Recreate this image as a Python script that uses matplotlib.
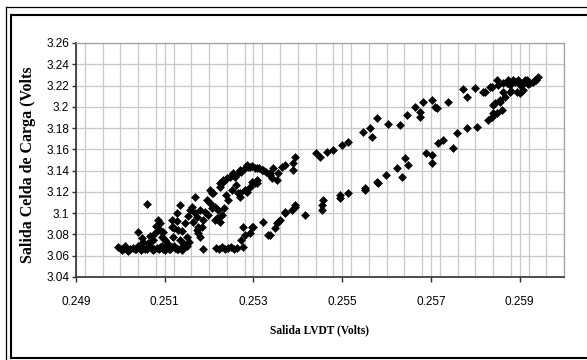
import matplotlib
matplotlib.use("Agg")
import matplotlib.pyplot as plt
from matplotlib.lines import Line2D
from matplotlib.ticker import MultipleLocator, FuncFormatter

# ---- data ----
base_x = [0.24995, 0.25001, 0.25008, 0.25015, 0.25022, 0.25028, 0.25035, 0.25042,
          0.25049, 0.25056, 0.25062, 0.25069, 0.25076, 0.25083, 0.25089, 0.25096,
          0.25103, 0.25110, 0.25116, 0.25123, 0.25130, 0.25137, 0.25143, 0.25150,
          0.25004, 0.25018, 0.25032, 0.25046, 0.25060, 0.25073, 0.25087, 0.25100,
          0.25113, 0.25127, 0.25140, 0.25186, 0.25011, 0.25039, 0.25066, 0.25093,
          0.25120, 0.25147]
base_y = [3.0682, 3.0664, 3.0673, 3.0654, 3.0664, 3.0673, 3.0664, 3.0682,
          3.0673, 3.0664, 3.0682, 3.0673, 3.0664, 3.0673, 3.0682, 3.0664,
          3.0673, 3.0664, 3.0682, 3.0673, 3.0664, 3.0673, 3.0682, 3.0692,
          3.0654, 3.0645, 3.0664, 3.0654, 3.0664, 3.0654, 3.0664, 3.0654,
          3.0664, 3.0664, 3.0654, 3.0665, 3.0690, 3.0695, 3.0690, 3.0695,
          3.0690, 3.0700]

cloud_x = [0.25059, 0.25040, 0.25048, 0.25051, 0.25074, 0.25078, 0.25085, 0.25089,
           0.25089, 0.25093, 0.25101, 0.25116, 0.25116, 0.25119, 0.25127, 0.25134,
           0.25130, 0.25134, 0.25146, 0.25150, 0.25161, 0.25168, 0.25168, 0.25172,
           0.25180, 0.25183, 0.25157, 0.25172, 0.25191, 0.25202, 0.25213, 0.25217,
           0.25228, 0.25213, 0.25225, 0.25175, 0.25175, 0.25180, 0.25220,
           0.25062, 0.25067, 0.25080, 0.25096, 0.25107, 0.25121, 0.25128, 0.25139,
           0.25141, 0.25152, 0.25164, 0.25155, 0.25186, 0.25195, 0.25198, 0.25207,
           0.25234, 0.25243, 0.25238, 0.25252, 0.25261]
cloud_y = [3.1087, 3.0826, 3.0767, 3.0732, 3.0748, 3.0814, 3.0936, 3.0908,
           3.0842, 3.0779, 3.0748, 3.0936, 3.0873, 3.0779, 3.1002, 3.1077,
           3.0842, 3.0748, 3.0908, 3.0779, 3.1061, 3.1155, 3.1002, 3.0842,
           3.1030, 3.0873, 3.1030, 3.0967, 3.1014, 3.1096, 3.1061, 3.0955,
           3.0983, 3.0936, 3.0920, 3.0873, 3.0814, 3.0779, 3.1030,
           3.0720, 3.0786, 3.0880, 3.0823, 3.0711, 3.0861, 3.0927, 3.0833,
           3.0720, 3.0974, 3.0917, 3.0729, 3.0936, 3.1124, 3.0983, 3.1049,
           3.1049, 3.1124, 3.1171, 3.1218, 3.1265]

load_x = [0.25206, 0.25209, 0.25202, 0.25225, 0.25231, 0.25231, 0.25225, 0.25240,
          0.25254, 0.25254, 0.25258, 0.25270, 0.25273, 0.25285, 0.25288, 0.25292,
          0.25303, 0.25307, 0.25319, 0.25322, 0.25337, 0.25337, 0.25344, 0.25352,
          0.25355, 0.25364, 0.25371, 0.25389, 0.25389, 0.25394,
          0.25265, 0.25270, 0.25281, 0.25296, 0.25307, 0.25303, 0.25307, 0.25292,
          0.25285, 0.25270,
          0.25247, 0.25265, 0.25281, 0.25297, 0.25312, 0.25328, 0.25342,
          0.25442, 0.25450, 0.25465, 0.25479, 0.25499, 0.25513, 0.25547, 0.25563,
          0.25567, 0.25578, 0.25603, 0.25630, 0.25645, 0.25664, 0.25675, 0.25675,
          0.25682, 0.25702, 0.25709, 0.25713, 0.25738, 0.25772, 0.25781, 0.25799,
          0.25817, 0.25822, 0.25833, 0.25837, 0.25848, 0.25862, 0.25871, 0.25878,
          0.25885, 0.25890, 0.25893, 0.25901, 0.25905, 0.25912, 0.25916, 0.25923,
          0.25935, 0.25938, 0.25941, 0.25862, 0.25856, 0.25844,
          0.25874, 0.25896, 0.25919, 0.25930, 0.25881, 0.25851, 0.25907]
load_y = [3.1190, 3.1190, 3.1218, 3.1284, 3.1312, 3.1296, 3.1249, 3.1331,
          3.1359, 3.1378, 3.1343, 3.1406, 3.1390, 3.1453, 3.1434, 3.1437,
          3.1425, 3.1425, 3.1406, 3.1406, 3.1378, 3.1359, 3.1425, 3.1312,
          3.1378, 3.1437, 3.1453, 3.1406, 3.1472, 3.1531,
          3.1190, 3.1190, 3.1218, 3.1296, 3.1284, 3.1284, 3.1312, 3.1249,
          3.1202, 3.1155,
          3.1340, 3.1378, 3.1425, 3.1444, 3.1425, 3.1387, 3.1331,
          3.1566, 3.1528, 3.1578, 3.1594, 3.1641, 3.1672, 3.1766, 3.1801,
          3.1719, 3.1892, 3.1839, 3.1829, 3.1923, 3.2001, 3.1907, 3.1954,
          3.2048, 3.2064, 3.2001, 3.1989, 3.2048, 3.2168, 3.2095, 3.2177,
          3.2142, 3.2142, 3.2189, 3.2189, 3.2252, 3.2224, 3.2224, 3.2205,
          3.2252, 3.2236, 3.2142, 3.2205, 3.2205, 3.2252, 3.2252, 3.2224,
          3.2252, 3.2252, 3.2283, 3.2142, 3.2064, 3.2036,
          3.2252, 3.2252, 3.2215, 3.2233, 3.2151, 3.2205, 3.2158]

unload_x = [0.25216, 0.25222, 0.25229, 0.25236, 0.25243, 0.25249, 0.25256, 0.25263,
            0.25273, 0.25276, 0.25281, 0.25276, 0.25292, 0.25296, 0.25299, 0.25322,
            0.25333, 0.25337, 0.25349, 0.25352, 0.25355, 0.25360, 0.25371, 0.25371,
            0.25386, 0.25394, 0.25394, 0.25416, 0.25454, 0.25454, 0.25457, 0.25495,
            0.25495, 0.25513, 0.25551, 0.25551, 0.25578, 0.25581, 0.25599, 0.25623,
            0.25634, 0.25648, 0.25642, 0.25688, 0.25702, 0.25702, 0.25716, 0.25727,
            0.25750, 0.25758, 0.25781, 0.25804, 0.25829, 0.25837, 0.25840, 0.25848,
            0.25840, 0.25860, 0.25856, 0.25867, 0.25878, 0.25901]
unload_y = [3.0673, 3.0664, 3.0682, 3.0664, 3.0673, 3.0682, 3.0664, 3.0673,
            3.0748, 3.0685, 3.0795, 3.0873, 3.0814, 3.0873, 3.0873, 3.0920,
            3.0795, 3.0795, 3.0861, 3.0908, 3.0920, 3.0936, 3.1002, 3.1014,
            3.1030, 3.1077, 3.1061, 3.0983, 3.1077, 3.1030, 3.1124, 3.1143,
            3.1171, 3.1193, 3.1237, 3.1218, 3.1296, 3.1284, 3.1359, 3.1422,
            3.1343, 3.1453, 3.1519, 3.1563, 3.1469, 3.1547, 3.1660, 3.1688,
            3.1613, 3.1754, 3.1801, 3.1813, 3.1876, 3.1907, 3.1942, 3.1942,
            3.2017, 3.1970, 3.2048, 3.2095, 3.2142, 3.2130]

x_ticks = [0.249, 0.251, 0.253, 0.255, 0.257, 0.259]
y_ticks = [3.04, 3.06, 3.08, 3.10, 3.12, 3.14, 3.16, 3.18, 3.20, 3.22, 3.24, 3.26]

x_label = "Salida LVDT (Volts)"
y_label = "Salida Celda de Carga (Volts"

# ---- figure ----
W, H = 587, 360
fig = plt.figure(figsize=(W / 100, H / 100), dpi=100)
fig.patch.set_facecolor("white")

def px(x):
    return x / W

def py(y):
    return 1 - y / H

# chart borders (outer thin + inner thicker)
fig.add_artist(Line2D([px(6), 1.0], [py(7), py(7)], color="black", lw=0.9))
fig.add_artist(Line2D([px(6), px(6)], [py(7), 0.0], color="black", lw=0.9))
fig.add_artist(Line2D([px(11), 1.0], [py(15), py(15)], color="black", lw=1.5))
fig.add_artist(Line2D([px(11), px(11)], [py(15), py(358)], color="black", lw=1.5))
fig.add_artist(Line2D([px(11), 1.0], [py(358), py(358)], color="black", lw=1.5))

ax = fig.add_axes([px(76), py(277), px(564) - px(76), py(43) - py(277)])
ax.set_xlim(0.249, 0.260)
ax.set_ylim(3.04, 3.26)

grid_c = "#c8c8c8"
ax.set_xticks(x_ticks)
ax.xaxis.set_minor_locator(MultipleLocator(0.0004))
ax.set_yticks(y_ticks)
ax.grid(True, which="both", axis="x", color=grid_c, lw=0.9)
ax.grid(True, which="major", axis="y", color=grid_c, lw=0.9)
ax.set_axisbelow(True)

def fmt(v, pos):
    return f"{v:.3f}".rstrip("0").rstrip(".")

ax.xaxis.set_major_formatter(FuncFormatter(lambda v, p: f"{v:.3f}"))
ax.yaxis.set_major_formatter(FuncFormatter(fmt))

for s in ["top", "right"]:
    ax.spines[s].set_color("#a0a0a0")
    ax.spines[s].set_linewidth(0.9)
for s in ["left", "bottom"]:
    ax.spines[s].set_color("#303030")
    ax.spines[s].set_linewidth(1.2)

ax.tick_params(axis="x", which="major", direction="out", length=3.5, width=1,
               color="#303030", pad=10, labelsize=8.5)
ax.tick_params(axis="x", which="minor", length=0)
ax.tick_params(axis="y", which="major", direction="out", length=3, width=1,
               color="#303030", pad=2, labelsize=8.5)
for lab in ax.get_xticklabels() + ax.get_yticklabels():
    lab.set_family("Liberation Sans")

mk = dict(marker="D", color="black", markersize=4.1, markeredgewidth=0.4,
          linestyle="none")
ax.plot(base_x, base_y, **mk)
ax.plot(cloud_x, cloud_y, **mk)
ax.plot(load_x, load_y, **mk)
ax.plot(unload_x, unload_y, **mk)

fig.text(px(320), py(330), x_label, ha="center", va="center",
         family="Liberation Serif", weight="bold", fontsize=8.3)
fig.text(px(28), py(165), y_label, ha="center", va="center", rotation=90,
         family="Liberation Serif", weight="bold", fontsize=11.5)

fig.savefig("out.png", dpi=100)
